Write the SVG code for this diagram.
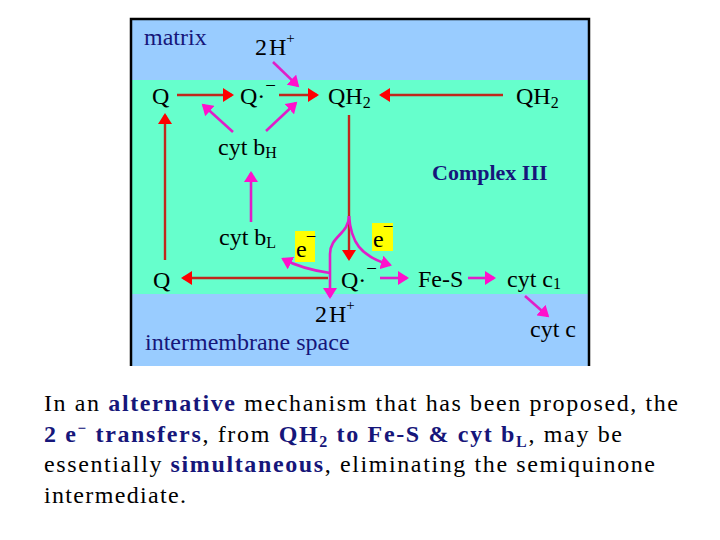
<svg xmlns="http://www.w3.org/2000/svg" width="720" height="540" viewBox="0 0 720 540">
<style>
text{font-family:"Liberation Serif","Times New Roman",serif;font-size:24px;fill:#000}
.navy{fill:#16167a}
.b{font-weight:bold;fill:#16167a}
.red{fill:none;stroke:#c0281c;stroke-width:2.4}
.mag{fill:none;stroke:#e01ec8;stroke-width:2.6}
.sub{font-size:16px}
.sup{font-size:15px}
.min{font-size:19px}
</style>
<defs>
<marker id="ar" markerUnits="userSpaceOnUse" markerWidth="12" markerHeight="14" refX="9" refY="7" orient="auto"><path d="M0,0 L11,7 L0,14 z" fill="#ff0000"/></marker>
<marker id="am" markerUnits="userSpaceOnUse" markerWidth="12" markerHeight="14" refX="9" refY="7" orient="auto"><path d="M0,0 L11,7 L0,14 z" fill="#ff10cc"/></marker>
</defs>
<rect width="720" height="540" fill="#fff"/>
<g id="background">
<rect x="131" y="19" width="458" height="61" fill="#99ccff"/>
<rect x="131" y="80" width="458" height="214" fill="#66ffcc"/>
<rect x="131" y="294" width="458" height="72" fill="#99ccff"/>
<path d="M131,366 V19 H589 V366" fill="none" stroke="#000" stroke-width="2.5"/>
</g>
<g id="connectors">
<line class="red" x1="177" y1="95" x2="232" y2="95" marker-end="url(#ar)"/>
<line class="red" x1="279" y1="95" x2="317" y2="95" marker-end="url(#ar)"/>
<line class="red" x1="503" y1="95" x2="381" y2="95" marker-end="url(#ar)"/>
<line class="red" x1="165" y1="260" x2="165" y2="115" marker-end="url(#ar)"/>
<line class="red" x1="349" y1="115" x2="349" y2="259" marker-end="url(#ar)"/>
<line class="red" x1="328" y1="278" x2="183" y2="278" marker-end="url(#ar)"/>
<line class="mag" x1="273" y1="62" x2="297.8" y2="85.9" marker-end="url(#am)"/>
<line class="mag" x1="233" y1="132" x2="203.2" y2="105" marker-end="url(#am)"/>
<line class="mag" x1="266" y1="131" x2="295.8" y2="103" marker-end="url(#am)"/>
<line class="mag" x1="251" y1="222" x2="251" y2="173" marker-end="url(#am)"/>
<path class="mag" d="M349,216 C349,234 330,236 330,254 L330,297" marker-end="url(#am)"/>
<path class="mag" d="M330,273 Q302,269 283,259" marker-end="url(#am)"/>
<path class="mag" d="M349,216 C351,242 360,256 390,265" marker-end="url(#am)"/>
<line class="mag" x1="380" y1="278" x2="407" y2="278" marker-end="url(#am)"/>
<line class="mag" x1="468" y1="278" x2="494" y2="278" marker-end="url(#am)"/>
<line class="mag" x1="525" y1="296" x2="547.7" y2="316" marker-end="url(#am)"/>
</g>
<g id="matrix"><text class="navy" x="144" y="45">matrix</text></g>
<g id="h2top"><text x="255" y="55">2<tspan dx="2">H</tspan><tspan class="sup" dy="-12">+</tspan></text></g>
<g id="q-top"><text x="152" y="104">Q</text></g>
<g id="qrad-top"><text x="240" y="104">Q·<tspan class="min" dy="-12">−</tspan></text></g>
<g id="qh2-mid"><text x="328" y="104">QH<tspan class="sub" dy="4">2</tspan></text></g>
<g id="qh2-right"><text x="516" y="104">QH<tspan class="sub" dy="4">2</tspan></text></g>
<g id="cytbH"><text x="218" y="155">cyt b<tspan class="sub" dy="3">H</tspan></text></g>
<g id="complex3"><text class="b" x="432" y="180" style="font-size:22px">Complex III</text></g>
<g id="cytbL"><text x="219" y="245">cyt b<tspan class="sub" dy="3">L</tspan></text></g>
<g id="e1"><rect x="295" y="231" width="20" height="31" fill="#ffff00"/><text x="296" y="257">e<tspan class="min" dx="-1" dy="-14">−</tspan></text></g>
<g id="e2"><rect x="372" y="223" width="21" height="28" fill="#ffff00"/><text x="373" y="247">e<tspan class="min" dx="-1" dy="-14">−</tspan></text></g>
<g id="q-bot"><text x="153" y="288">Q</text></g>
<g id="qrad-bot"><text x="341" y="288">Q·<tspan class="min" dy="-13">−</tspan></text></g>
<g id="fes"><text x="418" y="287">Fe-S</text></g>
<g id="cytc1"><text x="507" y="287">cyt c<tspan class="sub" dy="2">1</tspan></text></g>
<g id="h2bot"><text x="315" y="322">2<tspan dx="2">H</tspan><tspan class="sup" dy="-12">+</tspan></text></g>
<g id="ims"><text class="navy" x="145" y="350">intermembrane space</text></g>
<g id="cytc"><text x="530" y="337">cyt c</text></g>
<g id="caption">
<text x="44" y="411" textLength="634" lengthAdjust="spacing">In an <tspan class="b">alternative</tspan> mechanism that has been proposed, the</text>
<text x="44" y="442" textLength="578" lengthAdjust="spacing"><tspan class="b">2 e</tspan><tspan class="b sup" dy="-9">−</tspan><tspan class="b" dy="9"> transfers</tspan>, from <tspan class="b">QH</tspan><tspan class="b sub" dy="5">2</tspan><tspan class="b" dy="-5"> to Fe-S &amp; cyt b</tspan><tspan class="b sub" dy="5">L</tspan><tspan dy="-5">, may be</tspan></text>
<text x="44" y="472" textLength="611" lengthAdjust="spacing">essentially <tspan class="b">simultaneous</tspan>, eliminating the semiquinone</text>
<text x="44" y="503" textLength="142" lengthAdjust="spacing">intermediate.</text>
</g>
</svg>
